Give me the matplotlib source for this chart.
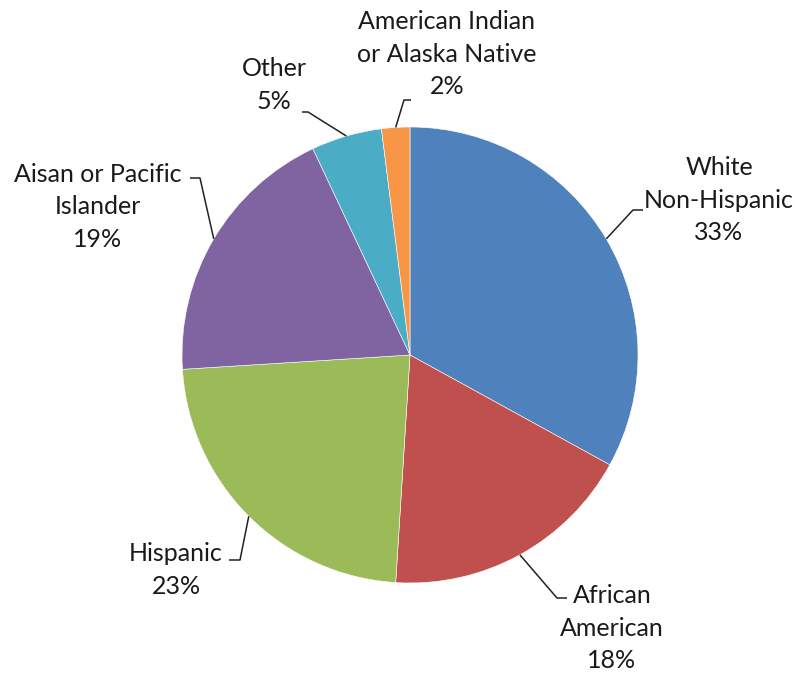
import numpy as np
import matplotlib.pyplot as plt

plt.rcParams['font.family'] = ['Lato', 'DejaVu Sans']

W, H = 796, 674

labels = ["White\nNon-Hispanic", "African\nAmerican", "Hispanic",
          "Aisan or Pacific\nIslander", "Other", "American Indian\nor Alaska Native"]
shares = [33, 18, 23, 19, 5, 2]
colors = ["#4F81BD", "#C0504D", "#9BBB59", "#8064A2", "#4BACC6", "#F79646"]

# label layout in pixel coords (top-left origin): text centre, elbow, line end
label_pos = [(719, 200), (612, 628), (176, 570), (98, 207), (274, 85), (447, 54)]
elbows = [(633, 210), (557, 598), (240, 560), (200, 178), (308, 112), (404, 100)]
ends = [(643, 210), (567, 598), (229, 560), (190, 178), (302, 112), (411, 100)]


def py(y):
    return H - y


fig = plt.figure(figsize=(W / 100, H / 100), dpi=100)
ax = fig.add_axes([0, 0, 1, 1])

cx, cy, r = 410, 355, 228
wedges, _ = ax.pie(shares, colors=colors, startangle=90, counterclock=False,
                   center=(cx, py(cy)), radius=r, frame=True,
                   wedgeprops=dict(edgecolor="white", linewidth=0.4))
ax.set_xlim(0, W)
ax.set_ylim(0, H)
ax.set_aspect("equal")
ax.axis("off")

for w, lab, s, tp, el, en in zip(wedges, labels, shares, label_pos, elbows, ends):
    mid = np.deg2rad((w.theta1 + w.theta2) / 2)
    ax_x = cx + r * np.cos(mid)
    ax_y = py(cy) + r * np.sin(mid)
    ax.plot([ax_x, el[0], en[0]], [ax_y, py(el[1]), py(en[1])],
            color="#222222", lw=1.1, solid_capstyle="butt")
    ax.text(tp[0], py(tp[1]), f"{lab}\n{s}%", ha="center", va="center",
            fontsize=18, color="#1a1a1a", linespacing=1.5)

fig.savefig("out.png", dpi=100)
